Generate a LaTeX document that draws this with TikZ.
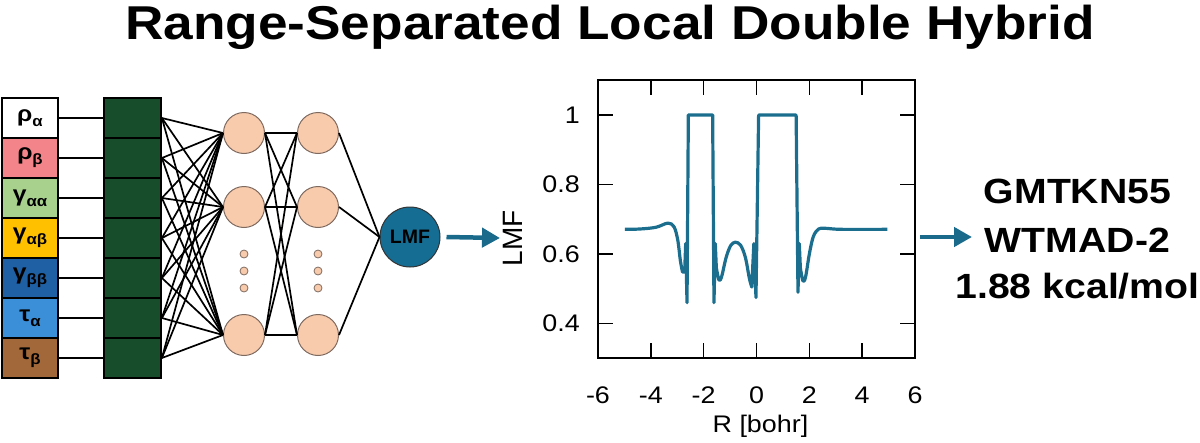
\documentclass[tikz,border=0pt]{standalone}
\usepackage{fontspec}
\setmainfont{Liberation Sans}
\usetikzlibrary{arrows.meta}

\definecolor{rhoB}{HTML}{F38489}
\definecolor{gamAA}{HTML}{A9D18E}
\definecolor{gamAB}{HTML}{FFC000}
\definecolor{gamBB}{HTML}{1F5FA3}
\definecolor{tauA}{HTML}{3B8ED8}
\definecolor{tauB}{HTML}{A3683A}
\definecolor{layergreen}{HTML}{174D2B}
\definecolor{peach}{HTML}{F8CBAD}
\definecolor{neuronedge}{HTML}{7F6A60}
\definecolor{lmfblue}{HTML}{156D93}
\definecolor{curveblue}{HTML}{1B6E8E}
\definecolor{arrowblue}{HTML}{1A6A8C}

\newcommand{\wtext}[2][1.12]{\scalebox{#1}[1]{#2}}
\newcommand{\insub}[2]{\wtext{#1\raisebox{-5pt}{\fontsize{15}{15}\selectfont #2}}}

\tikzstyle{inbox} = [draw=black, line width=1.8pt, rectangle, minimum width=56pt,
    minimum height=40pt, inner sep=0pt, font=\bfseries\fontsize{22}{22}\selectfont]
\tikzstyle{denselayer} = [draw=black, line width=1.8pt, fill=layergreen, rectangle,
    minimum width=57pt, minimum height=40pt]
\tikzstyle{neuron} = [draw=neuronedge, line width=1pt, fill=peach, circle,
    minimum size=41pt, inner sep=0pt]
\tikzstyle{smalldot} = [draw=neuronedge, line width=0.8pt, fill=peach, circle,
    minimum size=8pt, inner sep=0pt]
\tikzstyle{outneuron} = [draw=black!80, line width=1pt, fill=lmfblue, circle,
    minimum size=60pt, inner sep=0pt, font=\bfseries\fontsize{19.5}{19.5}\selectfont]
\tikzstyle{link} = [black, line width=1.7pt]
\tikzstyle{bigarrow} = [draw=arrowblue, line width=4.5pt, -{Triangle[length=18pt,width=19pt]}]
\tikzstyle{frame} = [black, line width=1.6pt]
\tikzstyle{ticklabel} = [font=\fontsize{24}{24}\selectfont, inner sep=0pt]
\tikzstyle{lmfcurve} = [curveblue, line width=3.2pt, line join=round]
\tikzstyle{result} = [anchor=base, inner sep=0pt, font=\bfseries\fontsize{35}{35}\selectfont]

\begin{document}
\begin{tikzpicture}[x=1pt, y=-1pt]
    \useasboundingbox (0,0) rectangle (1200,442);

    \node[anchor=base, font=\bfseries\fontsize{47.5}{47.5}\selectfont] (title) at (610,39)
        {\wtext{Range-Separated Local Double Hybrid}};

    % input features and first layer
    \foreach \i/\col/\lab in {1/white/{\insub{ρ}{α}}, 2/rhoB/{\insub{ρ}{β}},
            3/gamAA/{\insub{γ}{αα}}, 4/gamAB/{\insub{γ}{αβ}}, 5/gamBB/{\insub{γ}{ββ}},
            6/tauA/{\insub{τ}{α}}, 7/tauB/{\insub{τ}{β}}} {
        \node[inbox, fill=\col] (in\i) at (30,{78+40*\i}) {\lab};
        \node[denselayer] (g\i) at (132.5,{78+40*\i}) {};
    }

    % hidden layers
    \foreach \n/\y in {a/133, b/207, c/335} {
        \node[neuron] (h1\n) at (244,\y) {};
        \node[neuron] (h2\n) at (318,\y) {};
    }
    \foreach \k/\y in {1/254, 2/271, 3/288} {
        \node[smalldot] (d1\k) at (244,\y) {};
        \node[smalldot] (d2\k) at (318,\y) {};
    }
    \node[outneuron] (lmf) at (410,237) {LMF};

    \foreach \i in {1,...,7} {
        \draw[link] (in\i.east) -- (g\i.west);
        \foreach \n in {a,b,c}
            \draw[link] (g\i.east) -- (h1\n.west);
    }
    \foreach \m in {a,b,c} {
        \foreach \n in {a,b,c}
            \draw[link] (h1\m.east) -- (h2\n.west);
        \draw[link] (h2\m.east) -- (lmf.west);
    }

    \coordinate (a1end) at (500,238);
    \draw[bigarrow] ([xshift=6pt]lmf.east) -- (a1end);

    % LMF profile
    \node[rotate=90, inner sep=0pt, font=\fontsize{28}{28}\selectfont] (ylab) at (513,238) {LMF};
    \begin{scope}[shift={(756.5,462.5)}, x=26.42pt, y=347.5pt]
        \draw[frame] (-6,0.3) rectangle (6,1.1);
        \foreach \x in {-4,-2,...,4} {
            \draw[frame] (\x,1.1) -- ++(0pt,-15pt);
            \draw[frame] (\x,0.3) -- ++(0pt,15pt);
        }
        \foreach \y in {0.4,0.6,0.8,1} {
            \draw[frame] (-6,\y) -- ++(15pt,0pt);
            \draw[frame] (6,\y) -- ++(-15pt,0pt);
            \node[ticklabel, anchor=east, xshift=-18pt] at (-6,\y) {\wtext{\y}};
        }
        \foreach \x in {-6,-4,...,6}
            \node[ticklabel, anchor=base, yshift=-45pt] at (\x,0.3) {\wtext{\x}};
        \node[ticklabel, anchor=base, yshift=-74pt] (xlab) at (0.15,0.3) {\wtext{R [bohr]}};

        \draw[lmfcurve] plot[smooth, tension=0.55] coordinates {(-4.98,0.671) (-4.4,0.672)
                (-3.8,0.677) (-3.35,0.689) (-3.12,0.678) (-2.98,0.64) (-2.88,0.58) (-2.8,0.548)}
            -- (-2.72,0.548) -- (-2.68,0.63) -- (-2.63,0.46) -- (-2.58,1.0) -- (-1.66,1.0)
            -- (-1.61,0.46) -- (-1.56,0.63)
            -- plot[smooth, tension=0.55] coordinates {(-1.52,0.56) (-1.42,0.525) (-1.32,0.535)
                (-1.15,0.59) (-0.98,0.624) (-0.8,0.634) (-0.6,0.625) (-0.42,0.59) (-0.27,0.53)
                (-0.18,0.505)}
            -- (-0.1,0.63) -- (-0.02,0.475) -- (0.08,1.0) -- (1.5,1.0) -- (1.57,0.49) -- (1.62,0.63)
            -- plot[smooth, tension=0.55] coordinates {(1.66,0.56) (1.76,0.522) (1.86,0.535)
                (2.0,0.6) (2.15,0.65) (2.35,0.672) (2.6,0.674) (3.2,0.671) (4.95,0.671)};
    \end{scope}

    % benchmark result
    \coordinate (a2start) at (920,237);
    \coordinate (a2end) at (972,237);
    \draw[bigarrow] (a2start) -- (a2end);
    \node[result] (res1) at (1077.5,203) {\wtext{GMTKN55}};
    \node[result] (res2) at (1077.5,252) {\wtext{WTMAD-2}};
    \node[result] (res3) at (1077.5,298) {\wtext{1.88 kcal/mol}};
\end{tikzpicture}
\end{document}
